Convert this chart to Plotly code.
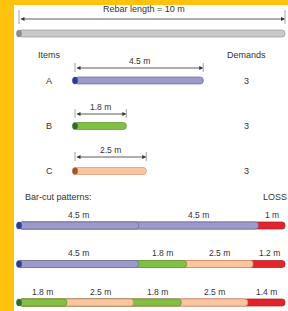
import numpy as np
import plotly.graph_objects as go

# ---------------- data ----------------
rebar_length = 10.0
item_names = ["A", "B", "C"]
item_lengths = [4.5, 1.8, 2.5]
item_demands = [3, 3, 3]
pattern_items = [["A", "A"], ["A", "B", "C"], ["B", "C", "B", "C"]]
pattern_lengths = [[4.5, 4.5], [4.5, 1.8, 2.5], [1.8, 2.5, 1.8, 2.5]]
pattern_loss = [1.0, 1.2, 1.4]

# ---------------- style / layout constants ----------------
W, H = 288, 311
FONT = "Liberation Sans, Arial, sans-serif"
TXT = "#333333"
fill = {"A": "#9c99cc", "B": "#80c142", "C": "#fbc59d", "LOSS": "#e4242b", "R": "#c9c9c9"}
edge = {"A": "#6e6c9c", "B": "#5c9430", "C": "#cf9670", "LOSS": "#a81c20", "R": "#979797"}
cap = {"A": "#2b3f96", "B": "#2f6d2c", "C": "#a9532b", "R": "#8c8c8c"}

# x axis (metres) for rebar + patterns: px = 19 + 26.6*m
PX0, SC = 19.0, 26.6
# x2 axis (metres) for item bars: px = 75 + 28.5*m
PX0b, SCb = 75.0, 28.5
BAR_H = 7

y_rebar = 33.5
y_rebar_dim = 19
y_items = [80.5, 126, 171]
y_item_dim = [68, 114, 157]
y_item_lab = [61, 107, 150]
y_pat = [225.5, 264, 302.5]
y_pat_lab = [215, 253, 292]

fig = go.Figure()
shapes = []
annos = []


def hbar(xref, start, end, y, key):
    fig.add_trace(go.Bar(
        orientation="h", y=[y], x=[end - start], base=[start], width=BAR_H,
        marker=dict(color=fill[key], line=dict(color=edge[key], width=0.7)),
        xaxis=xref, yaxis="y", hoverinfo="skip", showlegend=False))


def leftcap(xref, start, y, key, scale):
    half = 2.6 / scale
    shapes.append(dict(type="circle", xref=xref, yref="y",
                       x0=start - half, x1=start + half,
                       y0=y - BAR_H / 2, y1=y + BAR_H / 2,
                       fillcolor=cap[key], line=dict(color=cap[key], width=0.5)))


def dim(xref, start, end, y, ytop, ybot):
    for xv in (start, end):
        shapes.append(dict(type="line", xref=xref, yref="y", x0=xv, x1=xv,
                           y0=ytop, y1=ybot, line=dict(color="#8a8a8a", width=0.8)))
    annos.append(dict(x=end, y=y, ax=start, ay=y, xref=xref, yref="y",
                      axref=xref, ayref="y", text="", showarrow=True,
                      arrowside="end+start", arrowhead=2, arrowsize=1.0,
                      arrowwidth=0.8, arrowcolor="#333333", standoff=0, startstandoff=0))


def label(xref, x, y, text, size=8.5, xanchor="center"):
    annos.append(dict(x=x, y=y, xref=xref, yref="y", text=text, showarrow=False,
                      xanchor=xanchor, yanchor="middle",
                      font=dict(family=FONT, size=size, color=TXT)))


HEAD = 9

# ---- rebar ----
hbar("x", 0, rebar_length, y_rebar, "R")
leftcap("x", 0, y_rebar, "R", SC)
dim("x", 0, rebar_length, y_rebar_dim, 10, 24)
label("paper", 0.5, 9, f"Rebar length = {rebar_length:g} m", size=HEAD)

# ---- items ----
label("paper", 49 / W, 55, "Items", size=HEAD)
label("paper", 246 / W, 55, "Demands", size=HEAD)
for i, (nm, L, d) in enumerate(zip(item_names, item_lengths, item_demands)):
    hbar("x2", 0, L, y_items[i], nm)
    leftcap("x2", 0, y_items[i], nm, SCb)
    dim("x2", 0, L, y_item_dim[i], y_item_dim[i] - 5, y_item_dim[i] + 4)
    label("x2", L / 2, y_item_lab[i], f"{L:g} m")
    label("paper", 49 / W, y_items[i], nm, size=HEAD)
    label("paper", 246 / W, y_items[i], str(d), size=HEAD)

# ---- patterns ----
label("paper", 23 / W, 197, "Bar-cut patterns:", size=HEAD, xanchor="left")
label("paper", 275 / W, 197, "LOSS", size=HEAD)
for r, (its, lens, loss) in enumerate(zip(pattern_items, pattern_lengths, pattern_loss)):
    segs = list(lens) + [loss]
    keys = list(its) + ["LOSS"]
    ends = np.cumsum(segs)
    starts = ends - np.array(segs)
    for k in range(len(segs) - 1, -1, -1):
        hbar("x", 0, ends[k], y_pat[r], keys[k])
    leftcap("x", 0, y_pat[r], keys[0], SC)
    for s, e, v in zip(starts, ends, segs):
        label("x", (s + e) / 2, y_pat_lab[r], f"{v:g} m")

# ---- yellow frame ----
shapes.append(dict(type="rect", xref="paper", yref="paper", x0=0, x1=1,
                   y0=1 - 5 / H, y1=1, fillcolor="#ffc20e", line=dict(width=0), layer="below"))
shapes.append(dict(type="rect", xref="paper", yref="paper", x0=0, x1=14 / W,
                   y0=0, y1=1, fillcolor="#ffc20e", line=dict(width=0), layer="below"))

fig.update_layout(
    width=W, height=H, autosize=False,
    margin=dict(l=0, r=0, t=0, b=0),
    paper_bgcolor="white", plot_bgcolor="rgba(0,0,0,0)",
    barmode="overlay", barcornerradius=3,
    xaxis=dict(range=[-PX0 / SC, (W - PX0) / SC], visible=False, fixedrange=True),
    xaxis2=dict(range=[-PX0b / SCb, (W - PX0b) / SCb], visible=False,
                overlaying="x", fixedrange=True),
    yaxis=dict(range=[H, 0], visible=False, fixedrange=True),
    shapes=shapes, annotations=annos,
)

fig.write_html("out.html", config={"displayModeBar": False},
               post_script="document.body.style.margin='0';document.body.style.overflow='hidden';")
